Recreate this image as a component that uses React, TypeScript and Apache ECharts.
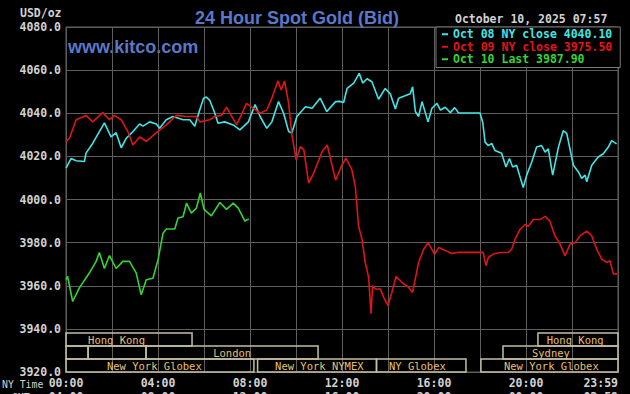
import React, { useEffect, useRef } from "react";
import * as echarts from "echarts";

const oct08Name = "Oct 08 NY close 4040.10";
const oct09Name = "Oct 09 NY close 3975.50";
const oct10Name = "Oct 10 Last 3987.90";
const dateText = "October 10, 2025 07:57";

const yTicks = [3920, 3940, 3960, 3980, 4000, 4020, 4040, 4060, 4080];
const nyTimeLabels = ["00:00", "04:00", "08:00", "12:00", "16:00", "20:00", "23:59"];
const gmtLabels = ["04:00", "08:00", "12:00", "16:00", "20:00", "00:00", "03:59"];

// [hour of NY day, price]
const oct08: number[][] = [
  [0, 4014.5], [0.22, 4019], [0.44, 4018], [0.8, 4017.6], [0.87, 4021.5], [1.16, 4026], [1.67, 4035.5],
  [1.96, 4029], [2.18, 4031], [2.4, 4024], [2.62, 4028.4], [2.91, 4031.5], [3.2, 4035], [3.35, 4034],
  [3.64, 4036], [3.93, 4035], [4.07, 4033], [4.36, 4037], [4.65, 4038.5], [5.09, 4037], [5.38, 4037],
  [5.6, 4034], [5.8, 4041], [5.98, 4047], [6.1, 4047.5], [6.25, 4046], [6.47, 4040], [6.61, 4035.4],
  [6.9, 4036], [7.27, 4034.6], [7.56, 4032.3], [7.93, 4036], [8.22, 4044], [8.44, 4038.5], [8.73, 4033],
  [8.95, 4036], [9.24, 4045.4], [9.46, 4040], [9.68, 4031.5], [9.82, 4030.8], [10.04, 4038.5],
  [10.41, 4043], [10.7, 4042.3], [11.05, 4047], [11.34, 4040.8], [11.72, 4045.4], [11.9, 4045.5],
  [12.07, 4045], [12.22, 4051.5], [12.51, 4054], [12.75, 4058.5], [12.9, 4054], [13.09, 4056],
  [13.3, 4054.6], [13.59, 4046.5], [13.88, 4051.5], [14.1, 4049], [14.32, 4042], [14.46, 4047],
  [14.97, 4049], [15.07, 4052.3], [15.19, 4040.8], [15.33, 4038.5], [15.48, 4045.4], [15.74, 4036],
  [15.91, 4042.3], [16.13, 4044.6], [16.28, 4041.5], [16.49, 4042.8], [16.71, 4040.3], [16.9, 4042.6],
  [17.07, 4040.1], [18.0, 4040.1], [18.12, 4035.7], [18.22, 4026.6], [18.36, 4025], [18.51, 4026],
  [18.65, 4022.7], [18.94, 4021.5], [19.13, 4015.1], [19.28, 4019], [19.42, 4015.1], [19.59, 4015.9],
  [19.74, 4010.5], [19.88, 4005.6], [20.03, 4011.3], [20.25, 4017.4], [20.46, 4024.3], [20.68, 4025],
  [20.83, 4022], [20.97, 4023.5], [21.16, 4011.3], [21.41, 4024.3], [21.62, 4031.9], [21.77, 4030.7],
  [22.06, 4015.9], [22.28, 4012.8], [22.42, 4009.8], [22.57, 4011.3], [22.64, 4008.2], [22.86, 4015.9],
  [23.14, 4019.7], [23.36, 4021.2], [23.58, 4024.3], [23.72, 4027.3], [23.94, 4025.8],
];

const oct09: number[][] = [
  [0, 4027], [0.15, 4028.4], [0.44, 4037], [0.87, 4039], [1.16, 4036], [1.6, 4040.3], [1.89, 4037],
  [2.11, 4039], [2.4, 4037], [2.69, 4031.5], [2.91, 4025.3], [3.2, 4029], [3.49, 4027], [3.93, 4031],
  [4.36, 4034.6], [4.8, 4039], [5.24, 4038.5], [5.67, 4038.5], [5.82, 4036], [6.25, 4037], [6.47, 4038.5],
  [6.76, 4039], [6.98, 4042.8], [7.42, 4034.6], [7.85, 4044.6], [8.15, 4042.3], [8.44, 4040],
  [8.73, 4041.5], [8.95, 4047], [9.21, 4055], [9.36, 4050.8], [9.5, 4055], [9.68, 4044.6], [9.82, 4030],
  [10.01, 4018.4], [10.19, 4024.5], [10.34, 4023], [10.55, 4007.6], [10.77, 4012.2], [11.14, 4022.3],
  [11.36, 4025.3], [11.72, 4009], [12.0, 4016], [12.17, 4019.2], [12.43, 4013.8], [12.58, 4006],
  [12.72, 3987.7], [12.87, 3981.5], [13.01, 3970.8], [13.16, 3963.8], [13.26, 3947], [13.33, 3960],
  [13.45, 3958.5], [13.67, 3958.5], [13.81, 3954.6], [14.0, 3950.8], [14.17, 3957], [14.35, 3964.3],
  [14.61, 3961.5], [14.9, 3959.2], [15.07, 3956.9], [15.33, 3970.8], [15.55, 3976.9], [15.74, 3980],
  [16.03, 3974.6], [16.2, 3977.7], [16.78, 3975], [17.07, 3975.5], [18.14, 3975.5], [18.26, 3969.3],
  [18.36, 3973.1], [18.58, 3974.7], [18.87, 3975.4], [19.23, 3975.4], [19.38, 3977], [19.52, 3981.5],
  [19.74, 3986.1], [19.96, 3988.4], [20.1, 3987.6], [20.32, 3990.7], [20.61, 3990.7], [20.83, 3992.2],
  [21.04, 3989.9], [21.26, 3983.1], [21.45, 3980], [21.7, 3973.9], [21.91, 3979.2], [22.13, 3980],
  [22.35, 3983.1], [22.64, 3985.3], [22.86, 3983.1], [23.07, 3977], [23.29, 3972.4], [23.51, 3970.8],
  [23.65, 3971.6], [23.8, 3965.5], [23.97, 3965.5],
];

const oct10: number[][] = [
  [0, 3962.8], [0.07, 3964.3], [0.29, 3952.7], [0.58, 3959], [1.02, 3966], [1.31, 3971.3], [1.45, 3975.4],
  [1.67, 3968], [1.89, 3974], [2.18, 3968], [2.47, 3971.3], [2.76, 3971.3], [3.05, 3966], [3.27, 3955.8],
  [3.49, 3962.8], [3.78, 3963.5], [4.0, 3972], [4.22, 3984.4], [4.36, 3986.3], [4.73, 3986.3],
  [4.87, 3991.4], [5.09, 3992], [5.24, 3998.3], [5.45, 3993.7], [5.67, 3996], [5.84, 4003], [6.0, 3995.4],
  [6.32, 3992.4], [6.69, 3998.6], [6.98, 3995.4], [7.27, 3998.3], [7.49, 3996], [7.78, 3990], [7.95, 3991],
];

// trading sessions (hours, NY time)
const sessionNames = ["Hong Kong", "", "", "London", "New York Globex", "New York NYMEX", "NY Globex", "Hong Kong", "Sydney", "New York Globex"];
const sessionStarts = [0, 0, 0.96, 3.48, 0, 8.33, 13.5, 20.52, 19.0, 18.04];
const sessionEnds = [5.48, 0.96, 3.48, 10.96, 8.17, 13.5, 17.39, 24, 24, 24];
const sessionRows = [0, 1, 1, 1, 2, 2, 2, 0, 1, 2];
const sessionLabelAt = [0.96, 0, 0, 6.4, 1.78, 9.09, 14.04, 20.9, 20.26, 19.04];

const MONO = '"DejaVu Sans Mono", monospace';
const GRID = "#5e5e5e";
const TXT = "#d2d2d2";

export default function App() {
  const ref = useRef<HTMLDivElement>(null);
  useEffect(() => {
    document.body.style.margin = "0";
    document.body.style.background = "#000";
    const chart = echarts.init(ref.current!, null, { renderer: "svg" });
    const option: any = {
      animation: false,
      backgroundColor: "#000",
      title: {
        text: "24 Hour Spot Gold (Bid)",
        left: 190,
        top: 4,
        textStyle: { color: "#5a78c8", fontSize: 18, fontWeight: "bold", fontFamily: '"Liberation Sans", Arial, sans-serif' },
      },
      grid: {
        left: 66, top: 27, width: 552, height: 345,
        outerBoundsMode: "none", containLabel: false,
        show: true, borderColor: GRID, borderWidth: 1, backgroundColor: "transparent",
      },
      legend: {
        orient: "vertical",
        left: 436,
        top: 27,
        width: 183,
        padding: [1, 8, 2, 6],
        itemGap: 0,
        itemWidth: 6,
        itemHeight: 2,
        icon: "rect",
        backgroundColor: "#000",
        borderColor: "#7a7a7a",
        borderWidth: 1,
        borderRadius: 0,
        selectedMode: false,
        textStyle: { fontFamily: MONO, fontWeight: "bold", fontSize: 11.5, lineHeight: 12.5, padding: [0, 0, 0, 0] },
        data: [
          { name: oct08Name, textStyle: { color: "#40e6e6" } },
          { name: oct09Name, textStyle: { color: "#e01414" } },
          { name: oct10Name, textStyle: { color: "#34d434" } },
        ],
      },
      xAxis: {
        type: "value",
        min: 0,
        max: 24,
        interval: 2,
        axisLine: { show: true, lineStyle: { color: GRID } },
        axisTick: { show: false },
        splitLine: { show: true, lineStyle: { color: GRID, width: 1 } },
        axisLabel: {
          margin: 4,
          showMinLabel: true,
          showMaxLabel: true,
          alignMaxLabel: "right",
          formatter: (v: number) => {
            if (v % 4 !== 0) return "";
            const i = v / 4;
            return `{a|${nyTimeLabels[i]}}\n{b|${gmtLabels[i]}}`;
          },
          rich: {
            a: { fontFamily: MONO, fontWeight: "bold", fontSize: 11.5, color: TXT, lineHeight: 14 },
            b: { fontFamily: MONO, fontWeight: "bold", fontSize: 11.5, color: TXT, lineHeight: 14 },
          },
        },
      },
      yAxis: {
        type: "value",
        min: yTicks[0],
        max: yTicks[yTicks.length - 1],
        interval: 20,
        axisLine: { show: true, lineStyle: { color: GRID } },
        axisTick: { show: false },
        splitLine: { show: true, lineStyle: { color: GRID, width: 1 } },
        axisLabel: {
          margin: 5,
          color: TXT,
          fontFamily: MONO,
          fontWeight: "bold",
          fontSize: 11.5,
          formatter: (v: number) => v.toFixed(1),
        },
      },
      graphic: [
        { type: "text", left: 20, top: 7, style: { text: "USD/oz", fill: TXT, font: `bold 11.5px ${MONO}` } },
        { type: "text", left: 68, top: 38, style: { text: "www.kitco.com", fill: "#5a78c8", font: 'bold 18px "Liberation Sans", Arial, sans-serif' } },
        { type: "text", left: 455, top: 13, style: { text: dateText, fill: TXT, font: `bold 11.5px ${MONO}` } },
        { type: "text", left: 2, top: 379, style: { text: "NY Time", fill: TXT, font: `9.8px ${MONO}` } },
        { type: "text", left: 12, top: 392, style: { text: "GMT", fill: TXT, font: `9.8px ${MONO}` } },
      ],
      series: [
        {
          type: "custom",
          name: "sessions",
          clip: false,
          silent: true,
          z: 1,
          encode: { x: [0, 1], y: 2 },
          data: sessionStarts.map((s, i) => [s, sessionEnds[i], sessionRows[i], sessionLabelAt[i]]),
          renderItem: (params: any, api: any) => {
            const s = api.value(0);
            const e = api.value(1);
            const row = api.value(2);
            const lx = api.value(3);
            const p0 = api.coord([s, 3940]);
            const p1 = api.coord([e, 3920]);
            const band = (p1[1] - p0[1] - 4) / 3;
            const top = p0[1] + 4 + row * band;
            const tx = api.coord([lx, 3940])[0];
            const name = sessionNames[params.dataIndex];
            const children: any[] = [
              {
                type: "rect",
                shape: { x: p0[0], y: top, width: p1[0] - p0[0], height: band },
                style: { fill: "none", stroke: "#c4bfa2", lineWidth: 1.5 },
              },
            ];
            if (name) {
              children.push({
                type: "text",
                x: tx,
                y: top + band / 2 + 0.5,
                style: { text: name, fill: "#e6c072", font: `10.5px ${MONO}`, align: "left", verticalAlign: "middle" },
              });
            }
            return { type: "group", children };
          },
        },
        { type: "line", name: oct08Name, data: oct08, showSymbol: false, z: 3, lineStyle: { color: "#40e6e6", width: 1.6 }, itemStyle: { color: "#40e6e6" } },
        { type: "line", name: oct09Name, data: oct09, showSymbol: false, z: 3, lineStyle: { color: "#e01414", width: 1.6 }, itemStyle: { color: "#e01414" } },
        { type: "line", name: oct10Name, data: oct10, showSymbol: false, z: 3, lineStyle: { color: "#34d434", width: 1.6 }, itemStyle: { color: "#34d434" } },
      ],
    };
    chart.setOption(option);
    return () => chart.dispose();
  }, []);
  return <div ref={ref} style={{ position: "absolute", left: 0, top: 0, width: 630, height: 394, background: "#000" }} />;
}
